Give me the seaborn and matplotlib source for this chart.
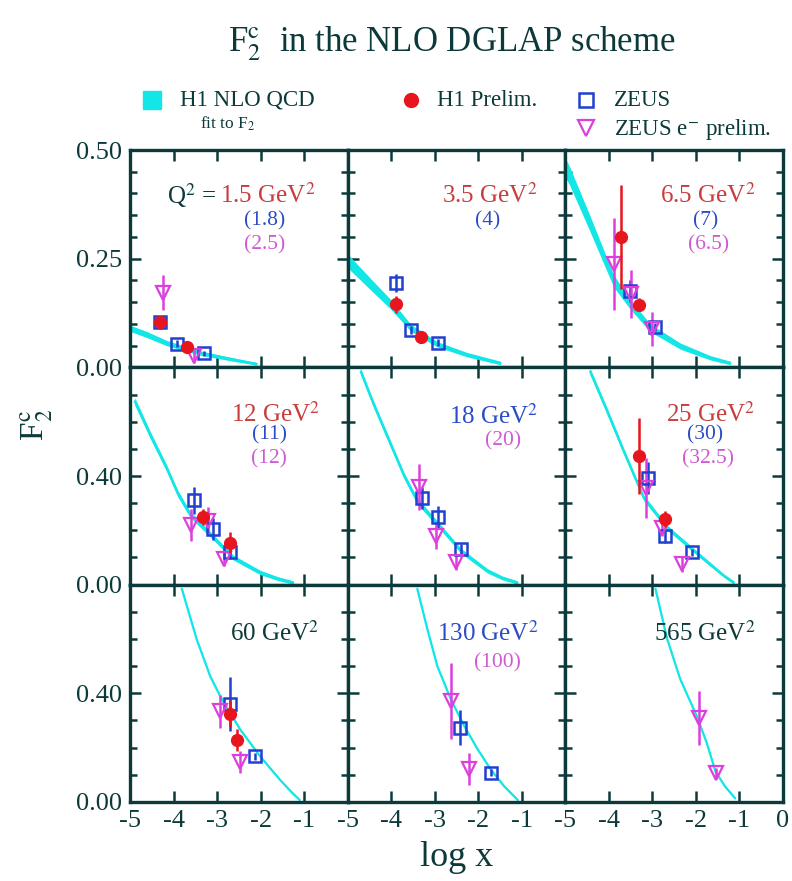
import numpy as np
import matplotlib
matplotlib.use("Agg")
import matplotlib.pyplot as plt
import seaborn as sns
from matplotlib.ticker import MultipleLocator, FixedLocator

# ---- data ----
panel_q2 = ["1.5", "3.5", "6.5", "12", "18", "25", "60", "130", "565"]

# NLO QCD fit curves (log x, F2c) and half-width of the error band
fit_logx = [
    [-5.0, -4.6, -4.16, -3.39, -2.63, -2.09],
    [-5.0, -4.47, -4.01, -3.55, -2.94, -2.25, -1.49],
    [-5.0, -4.89, -4.43, -3.89, -3.51, -3.05, -2.36, -1.67, -1.21],
    [-4.89, -4.54, -4.16, -3.90, -3.62, -3.16, -2.63, -2.01, -1.60, -1.25],
    [-4.70, -4.40, -4.01, -3.70, -3.40, -2.86, -2.40, -1.79, -1.45, -1.10],
    [-4.43, -4.04, -3.66, -3.20, -2.66, -2.13, -1.59, -1.35, -1.13],
    [-3.81, -3.47, -3.16, -2.93, -2.47, -2.01, -1.55, -1.30, -1.10],
    [-3.40, -3.17, -2.94, -2.63, -2.32, -2.01, -1.71, -1.40, -1.09],
    [-2.93, -2.66, -2.36, -1.98, -1.75, -1.55, -1.33, -1.10],
]
fit_f2 = [
    [0.090, 0.075, 0.056, 0.033, 0.018, 0.008],
    [0.245, 0.191, 0.145, 0.091, 0.053, 0.029, 0.010],
    [0.460, 0.438, 0.330, 0.199, 0.145, 0.091, 0.049, 0.022, 0.010],
    [0.675, 0.553, 0.430, 0.335, 0.259, 0.186, 0.100, 0.045, 0.022, 0.008],
    [0.785, 0.663, 0.516, 0.400, 0.308, 0.210, 0.125, 0.051, 0.025, 0.008],
    [0.785, 0.639, 0.492, 0.320, 0.210, 0.137, 0.064, 0.032, 0.008],
    [0.785, 0.600, 0.464, 0.390, 0.267, 0.168, 0.081, 0.038, 0.007],
    [0.785, 0.637, 0.500, 0.378, 0.279, 0.193, 0.119, 0.057, 0.007],
    [0.785, 0.600, 0.452, 0.316, 0.217, 0.112, 0.057, 0.014],
]
fit_halfwidth = [
    [0.007, 0.007, 0.006, 0.005, 0.004, 0.003],
    [0.016, 0.013, 0.011, 0.008, 0.006, 0.005, 0.004],
    [0.022, 0.021, 0.018, 0.014, 0.011, 0.009, 0.007, 0.005, 0.004],
    [0.014, 0.013, 0.012, 0.012, 0.011, 0.010, 0.009, 0.008, 0.007, 0.006],
    [0.012, 0.012, 0.012, 0.011, 0.011, 0.010, 0.009, 0.008, 0.007, 0.006],
    [0.012, 0.012, 0.011, 0.010, 0.009, 0.008, 0.007, 0.006, 0.006],
    [0.005, 0.005, 0.005, 0.004, 0.004, 0.004, 0.004, 0.004, 0.004],
    [0.005, 0.005, 0.005, 0.004, 0.004, 0.004, 0.004, 0.004, 0.004],
    [0.005, 0.005, 0.005, 0.004, 0.004, 0.004, 0.004, 0.004],
]

# H1 preliminary
h1_logx = [[-4.32, -3.68], [-3.89, -3.31], [-3.72, -3.31], [-3.33, -2.70], [],
           [-3.31, -2.70], [-2.70, -2.53], [], []]
h1_f2 = [[0.104, 0.046], [0.145, 0.070], [0.300, 0.144], [0.250, 0.155], [],
         [0.473, 0.241], [0.325, 0.227], [], []]
h1_err = [[0.015, 0.010], [0.020, 0.010], [0.120, 0.015], [0.030, 0.040], [],
          [0.140, 0.030], [0.050, 0.040], [], []]

# ZEUS
zeus_logx = [[-4.32, -3.92, -3.30], [-3.89, -3.54, -2.93], [-3.52, -2.93],
             [-3.54, -3.10, -2.70], [-3.29, -2.93, -2.40], [-3.10, -2.70, -2.08],
             [-2.71, -2.12], [-2.41, -1.71], []]
zeus_f2 = [[0.104, 0.054, 0.032], [0.194, 0.086, 0.057], [0.176, 0.093],
           [0.310, 0.205, 0.120], [0.320, 0.250, 0.130], [0.392, 0.180, 0.119],
           [0.360, 0.168], [0.273, 0.108], []]
zeus_err = [[0.015, 0.008, 0.006], [0.020, 0.010, 0.008], [0.025, 0.010],
            [0.050, 0.040, 0.025], [0.040, 0.040, 0.020], [0.060, 0.025, 0.012],
            [0.100, 0.012], [0.065, 0.012], []]

# ZEUS e- preliminary
zeusm_logx = [[-4.23, -3.53], [], [-3.88, -3.49, -3.00], [-3.60, -3.20, -2.83],
              [-3.37, -2.98, -2.51], [-3.15, -2.77, -2.31], [-2.93, -2.48],
              [-2.63, -2.21], [-1.93, -1.54]]
zeusm_f2 = [[0.172, 0.025], [], [0.238, 0.168, 0.088], [0.220, 0.235, 0.095],
            [0.360, 0.180, 0.083], [0.357, 0.210, 0.076], [0.334, 0.146],
            [0.370, 0.121], [0.310, 0.106]]
zeusm_err = [[0.040, 0.015], [], [0.105, 0.055, 0.040], [0.060, 0.050, 0.025],
             [0.085, 0.050, 0.030], [0.110, 0.030, 0.030], [0.060, 0.040],
             [0.140, 0.060], [0.100, 0.020]]

# Q2 labels: (text, colour key, x frac, y frac, ha)
panel_labels = [
    [("Q$^2$ = ", "dark", 0.405, 0.79, "right"), ("1.5 GeV$^2$", "red", 0.415, 0.79, "left"),
     ("(1.8)", "blue", 0.62, 0.675, "center"), ("(2.5)", "magenta", 0.62, 0.565, "center")],
    [("3.5 GeV$^2$", "red", 0.655, 0.79, "center"), ("(4)", "blue", 0.643, 0.675, "center")],
    [("6.5 GeV$^2$", "red", 0.652, 0.79, "center"), ("(7)", "blue", 0.643, 0.675, "center"),
     ("(6.5)", "magenta", 0.657, 0.565, "center")],
    [("12 GeV$^2$", "red", 0.671, 0.784, "center"), ("(11)", "blue", 0.64, 0.69, "center"),
     ("(12)", "magenta", 0.64, 0.578, "center")],
    [("18 GeV$^2$", "blue", 0.67, 0.775, "center"), ("(20)", "magenta", 0.712, 0.66, "center")],
    [("25 GeV$^2$", "red", 0.666, 0.784, "center"), ("(30)", "blue", 0.643, 0.69, "center"),
     ("(32.5)", "magenta", 0.657, 0.578, "center")],
    [("60 GeV$^2$", "dark", 0.666, 0.775, "center")],
    [("130 GeV$^2$", "blue", 0.643, 0.775, "center"), ("(100)", "magenta", 0.689, 0.642, "center")],
    [("565 GeV$^2$", "dark", 0.64, 0.775, "center")],
]

# ---- style ----
sns.set_style("ticks")
plt.rcParams['font.family'] = ['Liberation Serif', 'DejaVu Serif']
plt.rcParams['mathtext.fontset'] = 'stix'

CYAN = '#12e6e6'
RED = '#e8141e'
BLUE = '#2140d0'
MAGENTA = '#dc3fdc'
DARK = '#0c3a3a'
text_colors = {"dark": DARK, "red": '#c83c3c', "blue": '#2a4cc4', "magenta": '#d05ad0'}

fig = plt.figure(figsize=(7.92, 8.81), dpi=100)
gs = fig.add_gridspec(3, 3, left=0.1641, right=0.9886, top=0.8297, bottom=0.0897,
                      wspace=0, hspace=0)

for i in range(9):
    row, col = divmod(i, 3)
    ax = fig.add_subplot(gs[row, col])

    x = np.array(fit_logx[i])
    y = np.array(fit_f2[i])
    hw = np.array(fit_halfwidth[i])
    ax.fill_between(x, y - hw, y + hw, color=CYAN, lw=0, zorder=1)
    line = sns.lineplot(x=x, y=y, ax=ax, color=CYAN, lw=1.6, sort=False,
                        estimator=None, zorder=1)
    for ln in ax.lines:
        ln.set_solid_joinstyle('round')

    if h1_logx[i]:
        ax.errorbar(h1_logx[i], h1_f2[i], yerr=h1_err[i], fmt='o', color=RED,
                    ms=8.5, elinewidth=1.8, capsize=0, zorder=4)
    if zeus_logx[i]:
        ax.errorbar(zeus_logx[i], zeus_f2[i], yerr=zeus_err[i], fmt='s', color=BLUE,
                    mfc='none', mec=BLUE, mew=1.8, ms=8.5, elinewidth=1.8,
                    capsize=0, zorder=3)
    if zeusm_logx[i]:
        ax.errorbar(zeusm_logx[i], zeusm_f2[i], yerr=zeusm_err[i], fmt='v', color=MAGENTA,
                    mfc='none', mec=MAGENTA, mew=1.6, ms=9.5, elinewidth=1.8,
                    capsize=0, zorder=3)

    for txt, ckey, xf, yf, ha in panel_labels[i]:
        size = 18 if "GeV" in txt or "Q" in txt else 15.5
        ax.text(xf, yf, txt, transform=ax.transAxes, ha=ha, va='center',
                fontsize=size, color=text_colors[ckey])

    # axes ranges and ticks
    ax.set_xlim(-5, 0)
    ax.xaxis.set_major_locator(FixedLocator([-5, -4, -3, -2, -1, 0]))
    if row == 0:
        ax.set_ylim(0, 0.5)
        ax.yaxis.set_major_locator(FixedLocator([0, 0.25, 0.5]))
        ax.yaxis.set_minor_locator(MultipleLocator(0.05))
        ylabels = ['0.00', '0.25', '0.50']
    else:
        ax.set_ylim(0, 0.8)
        ax.yaxis.set_major_locator(FixedLocator([0, 0.4, 0.8]))
        ax.yaxis.set_minor_locator(MultipleLocator(0.1))
        ylabels = ['0.00', '0.40', '']
    if col == 0:
        ax.set_yticklabels(ylabels)
    else:
        ax.set_yticklabels([])
    if row == 2:
        if col == 2:
            ax.set_xticklabels(['-5', '-4', '-3', '-2', '-1', '0'])
        else:
            ax.set_xticklabels(['-5', '-4', '-3', '-2', '-1', ''])
    else:
        ax.set_xticklabels([])

    ax.tick_params(which='both', direction='in', top=True, right=True,
                   color=DARK, width=1.8, labelsize=19, labelcolor=DARK, pad=6)
    ax.tick_params(which='major', length=8)
    ax.tick_params(which='minor', length=5)
    for sp in ax.spines.values():
        sp.set_color(DARK)
        sp.set_linewidth(2.4)
    ax.set_xlabel('')
    ax.set_ylabel('')

# ---- title, axis labels ----
fig.text(0.571, 1 - 44 / 881, r"F$_2^{\mathrm{c}}$  in the NLO DGLAP scheme",
         ha='center', va='center', fontsize=25, color=DARK)
fig.text(0.577, 1 - 858 / 881, "log x", ha='center', va='center', fontsize=26, color=DARK)
fig.text(0.046, 1 - 425 / 881, r"F$_2^{\mathrm{c}}$", ha='center', va='center',
         rotation=90, fontsize=24, color=DARK)

# ---- legend drawn in an overlay in pixel units ----
leg = fig.add_axes([0, 0, 1, 1], facecolor='none')
leg.set_xlim(0, 792)
leg.set_ylim(881, 0)
leg.axis('off')
leg.plot([152], [100], marker='s', ms=13, color=CYAN, ls='none')
leg.text(180, 100, "H1 NLO QCD", va='center', fontsize=16.5, color=DARK)
leg.text(200, 124, r"fit to F$_2$", va='center', fontsize=12.5, color=DARK)
leg.plot([411], [100], marker='o', ms=10, color=RED, ls='none')
leg.text(437, 100, "H1 Prelim.", va='center', fontsize=16.5, color=DARK)
leg.plot([586], [100], marker='s', ms=10, mfc='none', mec=BLUE, mew=1.8, ls='none')
leg.text(614, 100, "ZEUS", va='center', fontsize=16.5, color=DARK)
leg.plot([586], [128], marker='v', ms=11, mfc='none', mec=MAGENTA, mew=1.6, ls='none')
leg.text(614, 130, r"ZEUS e$^{-}$ prelim.", va='center', fontsize=16.5, color=DARK)

fig.savefig("out.png", dpi=100)
